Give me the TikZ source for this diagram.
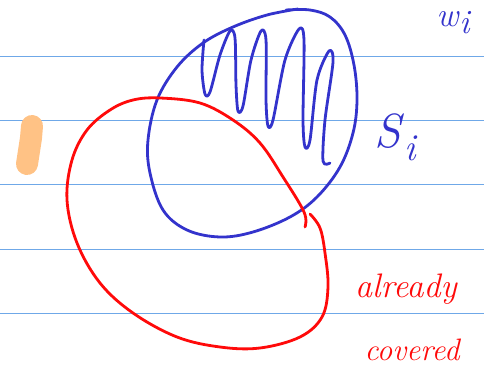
\documentclass[tikz,border=0pt]{standalone}
\usepackage{fontspec}
\usepackage{xcolor}
\usepackage{tikz}
\definecolor{penblue}{HTML}{3333CC}
\definecolor{penred}{HTML}{FF0A0A}
\definecolor{ruleblue}{HTML}{6FA8E8}
\definecolor{marker}{HTML}{FFC285}
\tikzset{
    pen/.style={line width=2.8pt, line cap=round, line join=round},
    handtext/.style={inner sep=0pt, font=\fontsize{34}{34}\selectfont\itshape}
}

\begin{document}
\begin{tikzpicture}[x=1pt, y=-1pt]
    \useasboundingbox (0,0) rectangle (484,371);

    % Linien
    \foreach \y in {57,121,185,249,313}
        \draw[ruleblue, line width=1pt] (0,\y) -- (484,\y);

    % Markierung links
    \draw[marker, line width=22pt, line cap=round] (32,126) -- (31,138) -- (27,164);

    % Menge S_i
    \draw[pen, penblue] plot[smooth, tension=0.6] coordinates {
        (286,10) (310,10) (330,17) (345,35) (354,65) (357,100) (353,133)
        (340,167) (317,197) (290,217) (253,232) (220,237) (187,230)
        (163,210) (150,173) (148,140) (157,100) (177,67) (203,43)
        (233,27) (267,15) (298,9)};

    % Zickzack in S_i
    \draw[pen, penblue] plot[smooth, tension=0.5] coordinates {
        (204,40) (202,70) (205,94) (210,92) (220,55) (230,31) (235,38)
        (236,85) (238,111) (243,106) (251,60) (261,31) (266,40) (266,100)
        (268,126) (273,120) (285,60) (299,29) (304,40) (303,120) (305,147)
        (310,140) (317,80) (329,51) (333,62) (325,120) (323,161) (330,163)};

    % bereits abgedeckt
    \draw[pen, penred] plot[smooth, tension=0.6] coordinates {
        (305,227) (304,212) (283,177) (260,143) (233,120) (200,103)
        (160,98) (133,100) (110,110) (87,130) (72,160) (67,200) (77,243)
        (100,283) (133,313) (177,337) (220,347) (260,348) (300,337)
        (322,317) (328,287) (325,253) (320,228) (310,214)};

    % Beschriftungen
    \node[handtext, penblue, font=\fontsize{34}{34}\selectfont\itshape] (wi) at (453,23)
        {w\kern1pt\raisebox{-7pt}{i}};
    \node[handtext, penblue, font=\fontsize{48}{48}\selectfont\itshape] (Si) at (395,137)
        {S\kern4pt\raisebox{-13pt}{\fontsize{38}{38}\selectfont i}};
    \node[handtext, penred] (already) at (406,289) {already};
    \node[handtext, penred, font=\fontsize{31}{31}\selectfont\itshape] (covered) at (412,350) {covered};
\end{tikzpicture}
\end{document}
